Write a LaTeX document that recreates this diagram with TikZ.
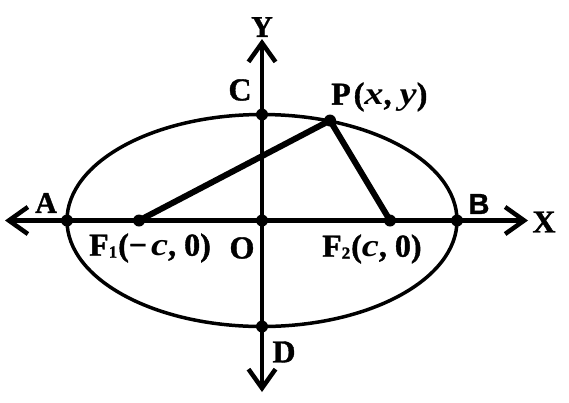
\documentclass[tikz,border=0pt]{standalone}
\usepackage{fontspec}
\usepackage{graphicx}
\setmainfont{Liberation Serif}[BoldFeatures={FakeBold=1.2}]
\newfontfamily\sansb{Liberation Sans}[BoldFeatures={FakeBold=1}]
\usetikzlibrary{arrows.meta}
\newcommand{\subdig}[1]{\raisebox{-2pt}{\fontsize{17}{17}\selectfont #1}}
\newcommand{\iv}[1]{\scalebox{1.2}[1]{\textit{#1}}}
\begin{document}
\begin{tikzpicture}[x=1pt,y=-1pt,
  barb/.tip={Straight Barb[length=19pt,width=27pt,line width=4.5pt]},
  axis/.style={line width=4.5pt,barb-barb},
  curve/.style={line width=3.5pt},
  seg/.style={line width=6pt,line cap=round},
  dot/.style={circle,fill=black,inner sep=0pt,minimum size=12pt},
  lab/.style={font=\fontsize{32}{34}\selectfont\bfseries,inner sep=0pt},
  labs/.style={font=\fontsize{30}{32}\selectfont\bfseries,inner sep=0pt}]
\useasboundingbox (0,0) rectangle (569,402);
\coordinate (O) at (262,220.5);
\coordinate (Xl) at (5,220.5);
\coordinate (Xr) at (528,220.5);
\coordinate (Yt) at (262,39);
\coordinate (Yb) at (262,392);
\draw[curve] (O) ellipse [x radius=195pt, y radius=106pt];
\draw[axis] (Xl) -- (Xr);
\draw[axis] (Yb) -- (Yt);
\node[dot] (A) at (67,220.5) {};
\node[dot] (B) at (457,220.5) {};
\node[dot] (C) at (262,114.5) {};
\node[dot] (D) at (262,326.5) {};
\node[dot] (Od) at (O) {};
\node[dot] (F1) at (139,220.5) {};
\node[dot] (F2) at (390,220.5) {};
\node[dot] (P) at (330,120.5) {};
\draw[seg] (F1.center) -- (P.center) -- (F2.center);
\node[labs] (tY) at (262,27) {Y};
\node[lab] (tC) at (240,90) {C};
\node[lab,anchor=west] (tP) at (331,97) {P\kern3pt(\iv{x}, \iv{y})};
\node[labs] (tA) at (46,203) {A};
\node[lab,font=\fontsize{29}{32}\selectfont\sansb\bfseries] (tB) at (479,204) {B};
\node[lab] (tX) at (544,222) {X};
\node[lab,anchor=west] (tF1) at (89,248) {F\subdig{1}\kern1pt(−\kern4pt\iv{c}, 0)};
\node[lab] (tO) at (242,248) {O};
\node[lab,anchor=west] (tF2) at (322,249) {F\subdig{2}\kern1pt(\iv{c}, 0)};
\node[lab] (tD) at (284,352) {D};
\end{tikzpicture}
\end{document}
